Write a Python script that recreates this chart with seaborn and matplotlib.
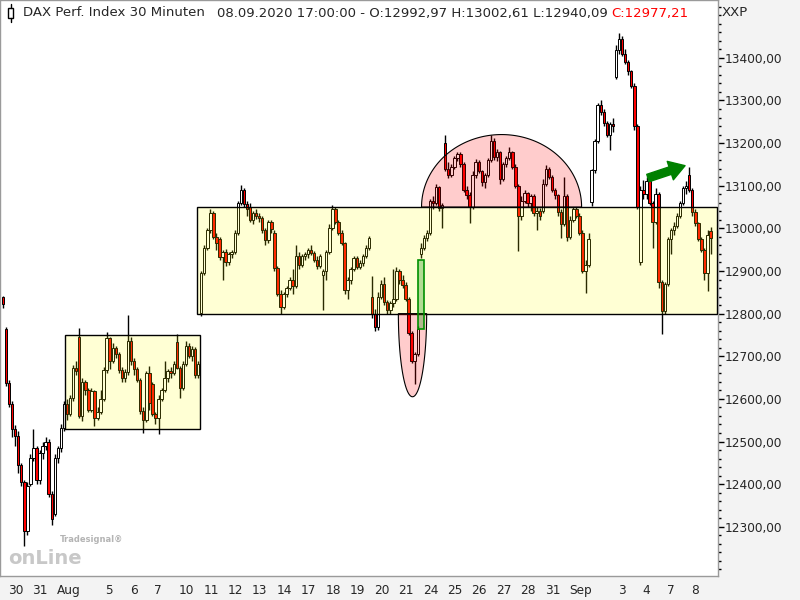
import matplotlib
matplotlib.use('Agg')
import matplotlib.pyplot as plt
import matplotlib.patches as mpatches
import matplotlib.transforms as mtransforms
from matplotlib.lines import Line2D
from matplotlib.ticker import MultipleLocator, FuncFormatter, FixedLocator
import numpy as np
import seaborn as sns

# DAX 30-Minuten-Kerzen (8 Kerzen pro Handelstag, erste Kerze = Rest vom 29.07.)
opens = [12838,
         12763, 12638, 12589, 12530, 12512, 12445, 12405, 12290,
         12400, 12462, 12485, 12410, 12472, 12490, 12500, 12378,
         12330, 12462, 12485, 12532, 12589, 12565, 12603, 12673,
         12744, 12560, 12640, 12620, 12575, 12618, 12555, 12570,
         12600, 12668, 12742, 12690, 12720, 12705, 12668, 12650,
         12662, 12735, 12690, 12670, 12645, 12572, 12550, 12660,
         12636, 12565, 12556, 12600, 12620, 12650, 12666, 12660,
         12733, 12673, 12626, 12683, 12725, 12700, 12718, 12657,
         12802, 12895, 12955, 12995, 13035, 12980, 12975, 12932,
         12945, 12920, 12940, 12945, 12990, 13060, 13090, 13058,
         13050, 13020, 13035, 13028, 13025, 12995, 12972, 13015,
         12990, 12908, 12847, 12815, 12845, 12860, 12880, 12865,
         12936, 12915, 12935, 12940, 12950, 12942, 12925, 12912,
         12890, 12900, 12945, 13000, 13045, 13015, 12990, 12965,
         12855, 12878, 12905, 12930, 12910, 12918, 12935, 12955,
         12840, 12800, 12768, 12840, 12870, 12828, 12808, 12825,
         12835, 12900, 12878, 12868, 12835, 12755, 12690, 12705,
         12940, 12955, 12978, 12990, 13065, 13060, 13098, 13048,
         13200, 13140, 13125, 13145, 13165, 13175, 13150, 13090,
         13078, 13050, 13125, 13155, 13135, 13108, 13125, 13160,
         13205, 13168, 13178, 13115, 13150, 13165, 13178, 13145,
         13100, 13030, 13065, 13082, 13060, 13075, 13035, 13040,
         13040, 13105, 13140, 13120, 13090, 13078, 13038, 13010,
         13075, 12980, 13020, 13045, 13030, 12990, 12900, 12915,
         13061, 13136, 13206, 13290, 13272, 13248, 13220, 13245,
         13355, 13418, 13445, 13410, 13390, 13368, 13335, 13240,
         12920, 13090, 13080, 13110, 13060, 13015, 13080, 12875,
         12805, 12870, 12975, 12995, 13005, 13030, 13060, 13095,
         13125, 13090, 13038, 13012, 12975, 12950, 12895, 12993]

highs = [12842,
         12768, 12645, 12595, 12538, 12525, 12450, 12410, 12405,
         12470, 12530, 12490, 12480, 12500, 12510, 12505, 12385,
         12470, 12490, 12540, 12595, 12600, 12610, 12680, 12690,
         12767, 12650, 12645, 12625, 12625, 12620, 12580, 12620,
         12675, 12758, 12745, 12730, 12725, 12710, 12675, 12670,
         12797, 12745, 12695, 12675, 12650, 12580, 12665, 12678,
         12640, 12570, 12610, 12625, 12690, 12670, 12675, 12690,
         12753, 12678, 12690, 12735, 12730, 12725, 12722, 12690,
         12900, 12960, 13000, 13045, 13040, 12990, 12980, 12950,
         12952, 12945, 12950, 12995, 13065, 13101, 13095, 13065,
         13060, 13040, 13045, 13035, 13030, 13000, 13020, 13020,
         12995, 12912, 12855, 12850, 12865, 12885, 12905, 12960,
         12945, 12940, 12945, 12955, 12960, 12948, 12935, 12940,
         12905, 12950, 13010, 13055, 13050, 13020, 12995, 12968,
         12885, 12910, 12935, 12935, 12925, 12940, 12960, 12982,
         12889, 12810, 12850, 12880, 12885, 12832, 12830, 12905,
         12910, 12905, 12890, 12875, 12840, 12760, 12710, 12770,
         12965, 12985, 12995, 13070, 13075, 13105, 13100, 13060,
         13218, 13155, 13150, 13170, 13180, 13178, 13155, 13100,
         13085, 13135, 13162, 13160, 13138, 13130, 13165, 13218,
         13212, 13185, 13182, 13155, 13170, 13190, 13182, 13150,
         13105, 13075, 13090, 13085, 13080, 13080, 13050, 13048,
         13115, 13148, 13145, 13125, 13095, 13080, 13045, 13120,
         13080, 13030, 13050, 13050, 13035, 12995, 12925, 12990,
         13140, 13210, 13295, 13301, 13280, 13252, 13250, 13260,
         13430, 13458, 13452, 13420, 13395, 13372, 13340, 13245,
         13100, 13113, 13120, 13115, 13065, 13095, 13085, 12880,
         12875, 12980, 13000, 13015, 13035, 13065, 13100, 13110,
         13143, 13095, 13045, 13015, 12980, 12955, 12995, 13003]

lows = [12814,
        12630, 12580, 12510, 12490, 12427, 12395, 12255, 12280,
        12395, 12455, 12400, 12400, 12460, 12480, 12370, 12305,
        12325, 12450, 12475, 12525, 12550, 12560, 12595, 12655,
        12555, 12548, 12610, 12570, 12570, 12537, 12550, 12565,
        12595, 12660, 12670, 12685, 12695, 12660, 12640, 12640,
        12655, 12680, 12655, 12640, 12565, 12521, 12545, 12575,
        12560, 12540, 12518, 12595, 12615, 12640, 12650, 12655,
        12670, 12603, 12620, 12678, 12695, 12690, 12650, 12650,
        12795, 12890, 12950, 12990, 12975, 12950, 12925, 12878,
        12912, 12915, 12930, 12940, 12985, 13055, 13050, 13030,
        13015, 13010, 13022, 13015, 12990, 12960, 12965, 12990,
        12900, 12842, 12800, 12810, 12840, 12855, 12847, 12860,
        12905, 12910, 12925, 12930, 12938, 12920, 12905, 12908,
        12808, 12880, 12940, 12995, 13010, 12985, 12960, 12845,
        12835, 12870, 12900, 12905, 12905, 12912, 12930, 12950,
        12790, 12760, 12762, 12835, 12820, 12800, 12800, 12815,
        12830, 12870, 12860, 12830, 12750, 12685, 12636, 12700,
        12930, 12950, 12970, 12985, 13045, 13055, 13040, 13002,
        13135, 13118, 13120, 13140, 13158, 13145, 13085, 13070,
        13012, 13045, 13118, 13130, 13100, 13095, 13120, 13155,
        13160, 13158, 13105, 13110, 13145, 13160, 13140, 13095,
        12948, 13020, 13060, 13050, 13040, 13030, 12995, 13020,
        13035, 13100, 13115, 13085, 13070, 13030, 12978, 13005,
        12970, 12975, 13015, 13025, 12985, 12895, 12849, 12910,
        13052, 13130, 13200, 13265, 13240, 13215, 13183, 13225,
        13350, 13410, 13405, 13385, 13360, 13330, 13230, 13045,
        12915, 13070, 13070, 13055, 12955, 13010, 12860, 12752,
        12800, 12865, 12940, 12985, 13000, 13025, 13055, 13080,
        13085, 13030, 13005, 12970, 12945, 12880, 12854, 12940]

closes = [12822,
          12638, 12589, 12530, 12512, 12445, 12405, 12290, 12395,
          12462, 12485, 12410, 12472, 12490, 12500, 12378, 12318,
          12462, 12485, 12532, 12589, 12565, 12603, 12673, 12666,
          12560, 12640, 12620, 12575, 12618, 12555, 12570, 12600,
          12668, 12742, 12690, 12720, 12705, 12668, 12650, 12662,
          12735, 12690, 12670, 12645, 12572, 12550, 12660, 12590,
          12565, 12556, 12600, 12620, 12650, 12666, 12660, 12683,
          12673, 12626, 12683, 12725, 12700, 12718, 12657, 12683,
          12895, 12955, 12995, 13035, 12980, 12965, 12932, 12945,
          12920, 12940, 12945, 12990, 13060, 13090, 13058, 13045,
          13020, 13035, 13028, 13025, 12995, 12972, 13015, 12998,
          12908, 12847, 12815, 12845, 12860, 12880, 12865, 12936,
          12915, 12935, 12940, 12950, 12942, 12925, 12912, 12935,
          12900, 12945, 13000, 13045, 13015, 12990, 12965, 12855,
          12878, 12905, 12930, 12910, 12918, 12935, 12955, 12978,
          12800, 12768, 12840, 12870, 12828, 12808, 12825, 12835,
          12900, 12878, 12868, 12835, 12755, 12690, 12705, 12765,
          12955, 12978, 12990, 13065, 13060, 13098, 13048, 13055,
          13140, 13125, 13145, 13165, 13175, 13150, 13090, 13078,
          13050, 13125, 13155, 13135, 13108, 13125, 13160, 13205,
          13168, 13178, 13115, 13150, 13165, 13178, 13145, 13100,
          13030, 13065, 13082, 13060, 13075, 13035, 13040, 13030,
          13105, 13140, 13120, 13090, 13078, 13038, 13010, 13075,
          12980, 13020, 13045, 13030, 12990, 12900, 12915, 12975,
          13136, 13206, 13290, 13272, 13248, 13220, 13245, 13240,
          13418, 13445, 13410, 13390, 13368, 13335, 13240, 13050,
          13090, 13080, 13110, 13060, 13015, 13080, 12875, 12805,
          12870, 12975, 12995, 13005, 13030, 13060, 13095, 13100,
          13090, 13038, 13012, 12975, 12950, 12895, 12985, 12977]

day_labels = ['30', '31', 'Aug', '', '5', '6', '7', '10', '11', '12', '13', '14', '17',
              '18', '19', '20', '21', '24', '25', '26', '27', '28', '31', 'Sep', '',
              '3', '4', '7', '8']
bars_per_day = 8

sns.set_style('white')
plt.rcParams['font.family'] = ['DejaVu Sans']

fig = plt.figure(figsize=(8, 6), dpi=100)
fig.patch.set_facecolor('#f3f3f3')
ax = fig.add_axes([0.0, 0.04, 718 / 800, 0.96])
ax.set_facecolor('white')

o = np.array(opens, dtype=float)
h = np.array(highs, dtype=float)
l = np.array(lows, dtype=float)
c = np.array(closes, dtype=float)
x = (np.arange(len(c)) - 1) / bars_per_day
up = c >= o

# Kerzen
ax.vlines(x, l, h, color='black', lw=1, zorder=2)
body_lo = np.minimum(o, c)
body_h = np.maximum(np.abs(c - o), 2)
ax.bar(x, body_h, bottom=body_lo, width=0.1,
       color=np.where(up, 'white', '#ff0000'), edgecolor='black',
       linewidth=0.7, zorder=3)

# Markierungen
yellow = (1, 1, 0, 0.17)
ax.add_patch(mpatches.Rectangle((2.42, 12530), 7.95 - 2.42, 220, fc=yellow, ec='black', lw=1, zorder=4))
ax.add_patch(mpatches.Rectangle((7.84, 12800), 29.13 - 7.84, 250, fc=yellow, ec='black', lw=1, zorder=4))

t = np.linspace(0, np.pi, 120)
top_arc = np.column_stack([20.31 + 3.28 * np.cos(t), 13050 + 170 * np.sin(t)])
ax.add_patch(mpatches.Polygon(top_arc, closed=True, fc=(1, 0, 0, 0.2), ec='black', lw=0.8, zorder=5))
bot_arc = np.column_stack([16.66 + 0.58 * np.cos(t), 12800 - 195 * np.sin(t)])
ax.add_patch(mpatches.Polygon(bot_arc, closed=True, fc=(1, 0, 0, 0.2), ec='black', lw=0.8, zorder=5))

ax.add_patch(mpatches.Rectangle((16.90, 12765), 0.24, 160, fc=(0, 0.55, 0, 0.3), ec='#009000', lw=1.2, zorder=6))

ax.annotate('', xy=(27.83, 13147), xytext=(26.31, 13118),
            arrowprops=dict(arrowstyle='simple,head_length=0.8,head_width=1.0,tail_width=0.4',
                            color='#008000', mutation_scale=14, shrinkA=0, shrinkB=0), zorder=7)

ax.set_xlim(-0.246, 29.18)
ax.set_ylim(12184.6, 13535.6)

# Y-Achse rechts
ax.yaxis.tick_right()
ax.yaxis.set_major_locator(FixedLocator(np.arange(12300, 13401, 100)))
ax.yaxis.set_minor_locator(MultipleLocator(20))
ax.yaxis.set_major_formatter(FuncFormatter(lambda v, p: f'{v:.2f}'.replace('.', ',')))
ax.tick_params(axis='y', which='major', direction='out', length=4, width=1, color='black',
               labelsize=8.7, pad=1, right=True, left=False)
ax.tick_params(axis='y', which='minor', direction='out', length=2, width=1, color='black',
               right=True, left=False)

# X-Achse
pos = [i for i, s in enumerate(day_labels) if s]
ax.set_xticks(pos)
ax.set_xticklabels([day_labels[i] for i in pos])
ax.tick_params(axis='x', direction='out', length=4, width=1, color='black', labelsize=8.7, pad=2)
offset = mtransforms.ScaledTranslation(2 / 100, 0, fig.dpi_scale_trans)
for lab in ax.get_xticklabels():
    lab.set_horizontalalignment('left')
    lab.set_transform(lab.get_transform() + offset)

for sp in ax.spines.values():
    sp.set_color('#9a9a9a')
    sp.set_linewidth(1)

# Titelzeile
ty = 1 - 13 / 600
fig.text(23 / 800, ty, 'DAX Perf. Index 30 Minuten', fontsize=9.5, va='center')
fig.text(217 / 800, ty, '08.09.2020 17:00:00 - O:12992,97 H:13002,61 L:12940,09', fontsize=9.5, va='center')
fig.text(611 / 800, ty, 'C:12977,21', fontsize=9.5, va='center', color='#ff0000')
fig.text(722 / 800, ty, 'XXP', fontsize=9.5, va='center')
fig.add_artist(mpatches.Rectangle((8 / 800, 1 - 18 / 600), 5 / 800, 10 / 600,
                                  transform=fig.transFigure, fill=False, ec='black', lw=1))
fig.add_artist(Line2D([10.5 / 800, 10.5 / 800], [1 - 22 / 600, 1 - 18 / 600], transform=fig.transFigure, color='black', lw=1))
fig.add_artist(Line2D([10.5 / 800, 10.5 / 800], [1 - 8 / 600, 1 - 4 / 600], transform=fig.transFigure, color='black', lw=1))

# Wasserzeichen
fig.text(60 / 800, 1 - 540 / 600, 'Tradesignal®', fontsize=6, fontweight='bold', color='#b4b4b4', va='center')
fig.text(8 / 800, 1 - 559 / 600, 'onLine', fontsize=14, fontweight='bold', color='#c8c8c8', va='center')

fig.savefig('out.png', dpi=100, facecolor=fig.get_facecolor())
